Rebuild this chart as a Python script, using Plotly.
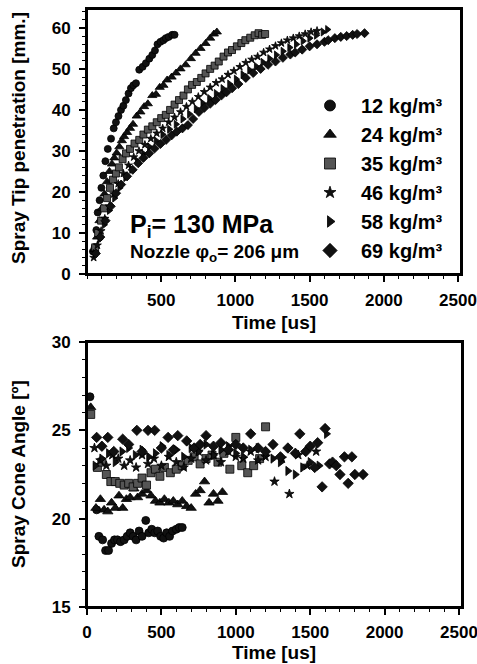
import plotly.graph_objects as go

# ---------------- data: spray tip penetration (top) ----------------
pen_t_12 = [40, 52, 63, 72, 85, 97, 110, 124, 140, 162, 180, 195, 212, 229, 245, 262, 280, 296, 312, 330, 352, 375, 397, 420, 440, 458, 475, 495, 515, 531, 550, 574, 590]
pen_s_12 = [5.5, 6.5, 10.7, 15, 18, 21, 24, 27.5, 30.5, 33, 35.5, 37, 38.5, 40, 41, 42.4, 44, 45.3, 46, 46.5, 49.8, 50.5, 51.4, 52.5, 53.4, 54.5, 56, 56.6, 57, 57.5, 57.8, 58.3, 58.3]

pen_t_24 = [50, 68, 84, 100, 118, 135, 151, 168, 184, 200, 218, 235, 250, 270, 290, 310, 335, 360, 385, 410, 440, 465, 490, 515, 540, 570, 600, 630, 665, 700, 732, 765, 799, 830, 855, 875]
pen_s_24 = [6, 9, 13, 16, 19.5, 22.5, 25, 26.8, 28.3, 29.5, 31, 32.5, 33.5, 34.5, 35.5, 36.5, 38.5, 39.5, 40.8, 41.5, 43.5, 43.8, 45.5, 46, 47.3, 48, 49, 50, 51, 52.5, 53.8, 55, 56.2, 57.5, 58.5, 59]

pen_t_35 = [55, 75, 95, 115, 135, 155, 175, 195, 215, 240, 263, 290, 320, 352, 380, 410, 440, 470, 500, 531, 560, 590, 620, 650, 680, 708, 740, 770, 799, 830, 860, 888, 920, 950, 977, 1010, 1040, 1067, 1100, 1130, 1156, 1180, 1200]
pen_s_35 = [6.5, 10, 13, 16, 18.5, 21, 23, 24.5, 26, 28, 29.4, 30.5, 31.8, 32.7, 34, 35.2, 36, 37, 38, 38.8, 40, 41.3, 42.4, 43.5, 45, 46.1, 46.8, 47.8, 48.9, 50, 50.8, 51.8, 53, 54, 54.6, 55.5, 56.3, 57, 57.6, 58.2, 58.7, 58.3, 58.5]

pen_t_46 = [45, 70, 95, 120, 150, 180, 210, 245, 280, 315, 350, 390, 430, 470, 510, 550, 590, 630, 670, 710, 750, 790, 830, 870, 910, 950, 990, 1030, 1070, 1110, 1150, 1190, 1230, 1270, 1310, 1350, 1390, 1430, 1470, 1510, 1550]
pen_s_46 = [4, 7, 10.5, 13.5, 16.5, 19.5, 22, 24.5, 26.5, 28.5, 30, 31.5, 33, 34.3, 35.5, 37, 38.2, 39.5, 40.8, 42, 43.2, 44.4, 45.5, 46.6, 47.5, 48.6, 49.5, 50.5, 51.5, 52.3, 53, 54, 54.8, 55.6, 56.3, 57, 57.5, 58, 58.5, 59, 59.3]

pen_t_58 = [55, 85, 115, 150, 185, 220, 260, 300, 340, 380, 420, 465, 510, 555, 600, 645, 690, 735, 780, 825, 870, 915, 960, 1005, 1050, 1095, 1140, 1185, 1230, 1275, 1320, 1365, 1410, 1455, 1500, 1545, 1590, 1620]
pen_s_58 = [5, 8.5, 12, 15.5, 18.5, 21, 23.5, 25.5, 27.5, 29.3, 31, 32.5, 34, 35.3, 36.5, 37.8, 39, 40.3, 41.6, 42.8, 44, 45.2, 46.3, 47.5, 48.6, 49.7, 50.6, 51.6, 52.5, 53.4, 54.3, 55.2, 56, 56.8, 57.5, 58.2, 59, 59.6]

pen_t_69 = [60, 90, 125, 160, 196, 230, 270, 308, 345, 380, 419, 455, 495, 533, 570, 605, 643, 680, 715, 754, 790, 830, 866, 905, 940, 978, 1020, 1070, 1120, 1170, 1220, 1270, 1320, 1370, 1403, 1450, 1500, 1550, 1600, 1625, 1670, 1710, 1750, 1790, 1820, 1870]
pen_s_69 = [5, 9, 13, 16.5, 19.7, 21.8, 23.8, 25.4, 27, 28.3, 29.4, 30.6, 31.7, 32.7, 33.8, 34.7, 35.5, 36.3, 37.8, 39.5, 40.5, 41.5, 42.4, 43.5, 44.3, 45.3, 46.3, 47.8, 49, 50, 51, 51.8, 52.7, 53.5, 54, 54.7, 55.5, 56, 56.6, 57, 57.5, 57.8, 58, 58.3, 58.5, 58.7]

# ---------------- data: spray cone angle (bottom) ----------------
ang_t_12 = [20, 65, 80, 105, 125, 145, 165, 185, 205, 225, 250, 270, 290, 310, 330, 350, 370, 395, 415, 435, 455, 475, 495, 515, 535, 555, 575, 600, 620, 640]
ang_a_12 = [26.9, 20.5, 19.0, 18.8, 18.2, 18.2, 18.6, 18.8, 18.8, 18.7, 18.8, 19.0, 19.2, 19.0, 18.8, 19.3, 19.0, 19.9, 19.2, 19.4, 19.2, 19.3, 19.0, 18.9, 19.2, 19.0, 19.3, 19.4, 19.5, 19.5]

ang_t_24 = [25, 60, 90, 115, 140, 165, 190, 215, 240, 265, 290, 315, 340, 370, 400, 430, 460, 490, 520, 550, 580, 610, 640, 670, 700, 730, 760, 790, 820, 850, 880, 910]
ang_a_24 = [26.3, 20.6, 21.1, 20.5, 20.4, 20.9, 20.6, 21.3, 20.6, 21.1, 21.2, 21.7, 21.2, 21.4, 21.6, 21.3, 21.0, 20.9, 21.1, 20.9, 21.0, 20.8, 21.0, 20.7, 20.6, 21.4, 21.6, 22.1, 20.9, 21.4, 21.0, 21.5]

ang_t_35 = [25, 70, 100, 130, 160, 190, 220, 250, 280, 310, 340, 370, 400, 430, 460, 490, 520, 560, 600, 640, 680, 720, 760, 800, 840, 880, 920, 960, 1000, 1040, 1080, 1120, 1160, 1200]
ang_a_35 = [25.9, 22.9, 23.2, 22.5, 22.1, 22.1, 22.0, 21.9, 22.0, 21.8, 22.0, 22.3, 21.9, 22.6, 22.8, 22.4, 22.9, 22.6, 22.8, 23.0, 23.3, 23.5, 23.1, 23.4, 23.6, 23.2, 23.7, 22.8, 24.6, 23.0, 22.6, 23.0, 23.4, 25.2]

ang_t_46 = [50, 90, 130, 170, 210, 250, 290, 330, 370, 410, 450, 500, 550, 600, 650, 700, 750, 800, 850, 900, 950, 1000, 1050, 1100, 1150, 1200, 1260, 1310, 1360, 1420, 1480, 1540]
ang_a_46 = [24.0, 23.3, 23.0, 23.6, 23.4, 23.0, 23.3, 22.9, 23.6, 23.1, 23.4, 23.0, 23.5, 23.2, 22.9, 23.4, 23.8, 23.3, 23.6, 23.2, 23.8, 23.5, 23.4, 23.8, 23.3, 23.5, 22.1, 23.4, 21.4, 23.6, 23.0, 23.8]

ang_t_58 = [55, 100, 145, 190, 235, 280, 325, 370, 415, 460, 505, 550, 600, 650, 700, 750, 800, 850, 900, 950, 1000, 1050, 1100, 1150, 1200, 1250, 1300, 1350, 1400, 1450, 1500, 1560, 1610]
ang_a_58 = [23.0, 23.4, 23.7, 23.2, 23.8, 24.0, 23.6, 23.9, 23.5, 23.7, 24.1, 23.6, 23.9, 23.5, 24.0, 23.8, 24.2, 23.6, 23.9, 24.1, 23.7, 23.5, 23.9, 24.0, 23.6, 23.4, 23.2, 22.7, 22.5, 22.9, 23.2, 23.0, 24.8]

ang_t_69 = [65, 100, 140, 180, 240, 280, 335, 370, 410, 455, 500, 545, 580, 610, 670, 720, 760, 800, 850, 900, 950, 1000, 1050, 1100, 1150, 1200, 1250, 1300, 1350, 1400, 1430, 1470, 1500, 1530, 1550, 1580, 1600, 1630, 1650, 1675, 1700, 1730, 1755, 1780, 1800, 1855]
ang_a_69 = [24.6, 24.1, 24.6, 23.8, 24.5, 24.2, 25.0, 23.8, 25.0, 25.0, 24.0, 24.6, 23.9, 24.7, 24.4, 24.0, 24.2, 24.7, 24.1, 24.3, 23.9, 24.2, 24.0, 24.8, 24.0, 23.8, 24.2, 23.5, 24.0, 23.7, 24.8, 23.8, 24.1, 22.9, 24.3, 21.8, 25.1, 23.1, 23.2, 23.0, 22.5, 23.5, 22.0, 23.5, 22.5, 22.5]

series_names = ["12 kg/m³", "24 kg/m³", "35 kg/m³", "46 kg/m³", "58 kg/m³", "69 kg/m³"]
pen_t = [pen_t_12, pen_t_24, pen_t_35, pen_t_46, pen_t_58, pen_t_69]
pen_s = [pen_s_12, pen_s_24, pen_s_35, pen_s_46, pen_s_58, pen_s_69]
ang_t = [ang_t_12, ang_t_24, ang_t_35, ang_t_46, ang_t_58, ang_t_69]
ang_a = [ang_a_12, ang_a_24, ang_a_35, ang_a_46, ang_a_58, ang_a_69]

x_ticks_top = [500, 1000, 1500, 2000, 2500]
x_ticks_bottom = [0, 500, 1000, 1500, 2000, 2500]

symbols = ["circle", "triangle-up", "square", "star", "triangle-right", "diamond"]
sizes = [7, 8, 7, 6, 7, 7]
legend_sizes = [11, 11, 11, 9, 10, 11]
fills = ["#111111", "#111111", "#555555", "#111111", "#111111", "#111111"]

FONT = "Liberation Sans, Arial, sans-serif"
W, H = 477, 664

fig = go.Figure()
for i in range(6):
    fig.add_trace(go.Scatter(
        x=pen_t[i], y=pen_s[i], mode="markers", name=series_names[i],
        xaxis="x", yaxis="y", showlegend=False,
        marker=dict(symbol=symbols[i], size=sizes[i], color=fills[i],
                    line=dict(color="#000000", width=0.8)),
    ))
for i in range(6):
    fig.add_trace(go.Scatter(
        x=ang_t[i], y=ang_a[i], mode="markers", name=series_names[i],
        xaxis="x2", yaxis="y2", showlegend=False,
        marker=dict(symbol=symbols[i], size=sizes[i] + 1, color=fills[i],
                    line=dict(color="#000000", width=0.8)),
    ))
# legend entries (styling only, no data)
for i in range(6):
    fig.add_trace(go.Scatter(
        x=[None], y=[None], mode="markers", name=series_names[i],
        xaxis="x", yaxis="y", showlegend=True,
        marker=dict(symbol=symbols[i], size=legend_sizes[i], color=fills[i],
                    line=dict(color="#000000", width=0.8)),
    ))

def px_x(px):
    return px / W

def px_y(py):
    return 1 - py / H

axis_common = dict(
    showline=True, linecolor="black", linewidth=2, mirror=True,
    ticks="outside", ticklen=6, tickwidth=1.5, tickcolor="black",
    showgrid=False, zeroline=False, automargin=False,
    ticklabeloverflow="allow",
    tickfont=dict(family=FONT, size=17, color="black", weight="bold"),
)
minor_x = dict(tickmode="linear", tick0=0, dtick=100, ticks="outside",
               ticklen=3, tickwidth=1.2, tickcolor="black")

fig.update_layout(
    width=W, height=H,
    margin=dict(l=0, r=0, t=0, b=0, pad=0, autoexpand=False),
    paper_bgcolor="white", plot_bgcolor="white",
    font=dict(family=FONT, color="black"),
    xaxis=dict(domain=[px_x(87), px_x(461)], range=[0, 2520], anchor="y",
               tickmode="array", tickvals=x_ticks_top, ticklabelstandoff=4,
               minor=minor_x, **axis_common),
    yaxis=dict(domain=[px_y(274), px_y(9)], range=[0, 64.6], anchor="x",
               tickmode="linear", tick0=0, dtick=10, ticklabelstandoff=5,
               minor=dict(tickmode="linear", tick0=0, dtick=2, ticks="outside",
                          ticklen=3, tickwidth=1.2, tickcolor="black"),
               **axis_common),
    xaxis2=dict(domain=[px_x(87), px_x(462)], range=[0, 2520], anchor="y2",
                tickmode="array", tickvals=x_ticks_bottom, ticklabelstandoff=3,
                minor=minor_x, **axis_common),
    yaxis2=dict(domain=[px_y(607), px_y(342)], range=[15, 30], anchor="x2",
                tickmode="linear", tick0=15, dtick=5, ticklabelstandoff=5,
                minor=dict(tickmode="linear", tick0=15, dtick=1, ticks="outside",
                           ticklen=3, tickwidth=1.2, tickcolor="black"),
                **axis_common),
    legend=dict(x=px_x(299), y=px_y(86), xanchor="left", yanchor="top",
                bgcolor="rgba(0,0,0,0)", borderwidth=0,
                itemwidth=52, itemsizing="trace",
                font=dict(family=FONT, size=20, color="black", weight="bold")),
    showlegend=True,
)

# plot frames
for xd, yd in (("x domain", "y domain"), ("x2 domain", "y2 domain")):
    fig.add_shape(type="rect", xref=xd, yref=yd, x0=0, x1=1, y0=0, y1=1,
                  line=dict(color="black", width=2), fillcolor="rgba(0,0,0,0)",
                  layer="above")

annots = [
    dict(text="Spray Tip penetration [mm.]", x=px_x(18), y=px_y(138), textangle=-90),
    dict(text="Spray Cone Angle [º]", x=px_x(18), y=px_y(474), textangle=-90),
    dict(text="Time [us]", x=px_x(274), y=px_y(322)),
    dict(text="Time [us]", x=px_x(274), y=px_y(652)),
]
for a in annots:
    fig.add_annotation(xref="paper", yref="paper", showarrow=False,
                       xanchor="center", yanchor="middle",
                       text=a["text"], x=a["x"], y=a["y"],
                       textangle=a.get("textangle", 0),
                       font=dict(family=FONT, color="black", size=19, weight="bold"))

fig.add_annotation(xref="paper", yref="paper", showarrow=False,
                   xanchor="left", yanchor="middle", x=px_x(128), y=px_y(226),
                   text="P<sub>i</sub>= 130 MPa",
                   font=dict(family=FONT, size=25, color="black", weight="bold"))
fig.add_annotation(xref="paper", yref="paper", showarrow=False,
                   xanchor="left", yanchor="middle", x=px_x(128), y=px_y(253),
                   text="Nozzle φ<sub>o</sub>= 206 μm",
                   font=dict(family=FONT, size=19, color="black", weight="bold"))

fig.write_html("out.html")
